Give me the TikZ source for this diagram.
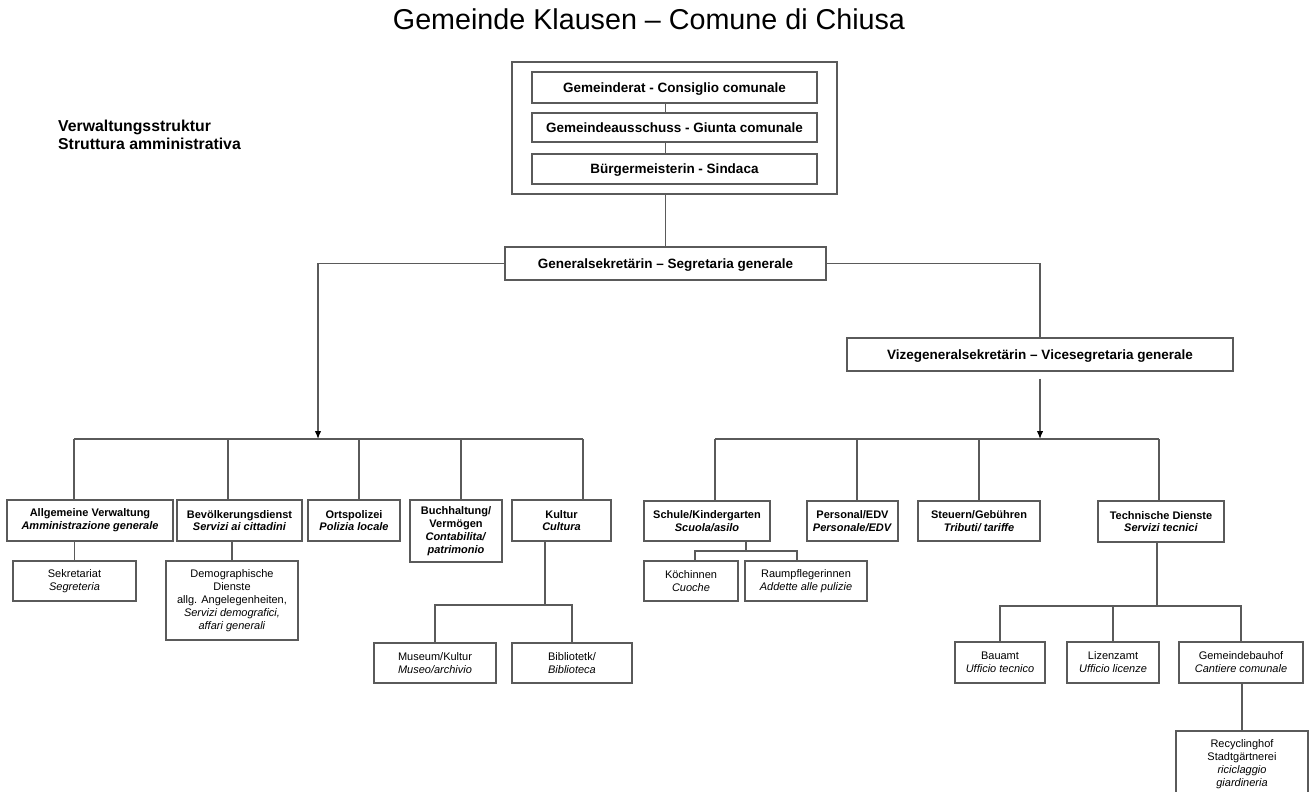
\documentclass[tikz,border=0pt]{standalone}
\usepackage{fontspec}
\setmainfont{Liberation Sans}
\usetikzlibrary{arrows.meta}
\definecolor{linegray}{HTML}{5A5A5A}
\tikzset{
  link/.style={draw=linegray, line width=1.3pt},
  arr/.style={link, -{Latex[length=8pt,width=6.5pt,color=black]}},
  deptbox/.style={draw=linegray, line width=1.3pt, inner sep=0pt, align=center,
    font=\fontsize{11}{12.8}\selectfont\bfseries},
  officebox/.style={deptbox, font=\fontsize{11}{13}\selectfont},
  leadbox/.style={deptbox, font=\fontsize{13.5}{16}\selectfont\bfseries},
}

\begin{document}
\begin{tikzpicture}[x=1pt, y=-1pt]
\useasboundingbox (0,0) rectangle (1312,792);
\clip (0,0) rectangle (1312,792);

\node[anchor=base, inner sep=0pt, font=\fontsize{28.7}{34}\selectfont] (title) at (649,30) {Gemeinde Klausen – Comune di Chiusa};
\node[anchor=north west, inner sep=0pt, align=left, font=\fontsize{15.8}{18.5}\selectfont\bfseries] (subtitle) at (58,119.5) {Verwaltungsstruktur\\Struttura amministrativa};

\node[draw=linegray, line width=1.3pt, minimum width=325pt, minimum height=132pt] (rat) at (674.5,128) {};
\node[leadbox, minimum width=285pt, minimum height=31pt, text depth=0pt] (rat1) at (674.5,87.5) {Gemeinderat - Consiglio comunale};
\node[leadbox, minimum width=285pt, minimum height=29pt, text depth=0pt] (rat2) at (674.5,127.5) {Gemeindeausschuss - Giunta comunale};
\node[leadbox, minimum width=285pt, minimum height=30pt, text depth=0pt] (rat3) at (674.5,169) {Bürgermeisterin - Sindaca};
\node[leadbox, minimum width=321pt, minimum height=33pt, text depth=0pt] (gen) at (665.5,263.5) {Generalsekretärin – Segretaria generale};
\node[leadbox, minimum width=386pt, minimum height=33pt, text depth=0pt] (vize) at (1040,354.5) {Vizegeneralsekretärin – Vicesegretaria generale};

\draw[link] (rat1.south -| gen.north) -- (rat2.north -| gen.north);
\draw[link] (rat2.south -| gen.north) -- (rat3.north -| gen.north);
\draw[link] (rat.south -| gen.north) -- (gen.north);
\draw[link] (gen.east) -| (vize.north);

\node[deptbox, minimum width=166pt, minimum height=41pt] (allg) at (90,520.5) {Allgemeine Verwaltung\\\textit{Amministrazione generale}};
\node[deptbox, minimum width=125pt, minimum height=41pt] (bev) at (239.5,520.5) {Bevölkerungsdienst\\\textit{Servizi ai cittadini}};
\node[deptbox, minimum width=92pt, minimum height=41pt] (orts) at (354,520.5) {Ortspolizei\\\textit{Polizia locale}};
\node[deptbox, minimum width=92pt, minimum height=62pt] (buch) at (456,531) {Buchhaltung/\\Vermögen\\\textit{Contabilita/}\\\textit{patrimonio}};
\node[deptbox, minimum width=99pt, minimum height=41pt] (kult) at (561.5,520.5) {Kultur\\\textit{Cultura}};

\node[deptbox, minimum width=126pt, minimum height=40pt] (schule) at (707,521) {Schule/Kindergarten\\\textit{Scuola/asilo}};
\node[deptbox, minimum width=91pt, minimum height=40pt] (pers) at (852.5,521) {Personal/EDV\\\textit{Personale/EDV}};
\node[deptbox, minimum width=122pt, minimum height=40pt] (steu) at (979,521) {Steuern/Gebühren\\\textit{Tributi/ tariffe}};
\node[deptbox, minimum width=126pt, minimum height=41pt] (tech) at (1161,521.5) {Technische Dienste\\\textit{Servizi tecnici}};

\coordinate (lbar) at (318,439);
\coordinate (rbar) at (1040,439);
\draw[arr] (gen.west) -| (lbar);
\draw[arr, shorten <=7pt] (vize.south) -- (rbar);
\foreach \n/\x in {allg/74, bev/228, orts/359, buch/461, kult/583, schule/715, pers/857, steu/979, tech/1159} {
  \coordinate (j-\n) at (\x,439);
  \draw[link] (j-\n) -- (j-\n |- \n.north);
}
\draw[link] (j-allg) -- (j-kult);
\draw[link] (j-schule) -- (j-tech);

\node[officebox, minimum width=123pt, minimum height=40pt] (sek) at (74.5,581) {Sekretariat\\\textit{Segreteria}};
\node[officebox, minimum width=132pt, minimum height=79pt] (demo) at (232,600.5) {Demographische\\Dienste\\allg. Angelegenheiten,\\\textit{Servizi demografici,}\\\textit{affari generali}};
\node[officebox, minimum width=122pt, minimum height=40pt] (mus) at (435,663) {Museum/Kultur\\\textit{Museo/archivio}};
\node[officebox, minimum width=120pt, minimum height=40pt] (bib) at (572,663) {Bibliotetk/\\\textit{Biblioteca}};
\node[officebox, minimum width=94pt, minimum height=40pt] (koch) at (691,581) {Köchinnen\\\textit{Cuoche}};
\node[officebox, minimum width=122pt, minimum height=40pt] (raum) at (806,581) {Raumpflegerinnen\\\textit{Addette alle pulizie}};
\node[officebox, minimum width=90pt, minimum height=41pt] (bau) at (1000,662.5) {Bauamt\\\textit{Ufficio tecnico}};
\node[officebox, minimum width=92pt, minimum height=41pt] (liz) at (1113,662.5) {Lizenzamt\\\textit{Ufficio licenze}};
\node[officebox, minimum width=124pt, minimum height=41pt] (gbh) at (1241,662.5) {Gemeindebauhof\\\textit{Cantiere comunale}};
\node[officebox, minimum width=132pt, minimum height=66pt] (rec) at (1242,764) {Recyclinghof\\Stadtgärtnerei\\\textit{riciclaggio}\\\textit{giardineria}};

\draw[link] (allg.south -| sek.north) -- (sek.north);
\draw[link] (bev.south -| demo.north) -- (demo.north);

\coordinate (kj) at (545,605);
\draw[link] (kult.south -| kj) -- (kj);
\draw[link] (mus.north) |- (kj) -| (bib.north);

\coordinate (sj) at (746,551);
\coordinate (sj1) at (695,551);
\coordinate (sj2) at (797,551);
\draw[link] (schule.south -| sj) -- (sj);
\draw[link] (sj1 |- koch.north) -- (sj1) -- (sj2) -- (sj2 |- raum.north);

\coordinate (tj) at (1157,606);
\draw[link] (tech.south -| tj) -- (tj);
\draw[link] (bau.north) |- (tj) -| (gbh.north);
\draw[link] (liz.north) -- (liz.north |- tj);
\draw[link] (gbh.south -| rec.north) -- (rec.north);

\end{tikzpicture}
\end{document}
